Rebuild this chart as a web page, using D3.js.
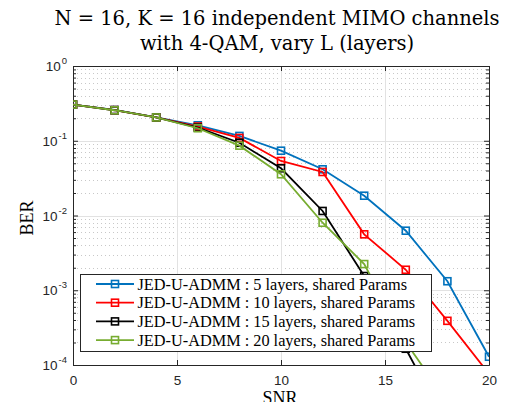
<!DOCTYPE html>
<html>
<head>
<meta charset="utf-8">
<script src="https://cdn.jsdelivr.net/npm/d3@7"></script>
<style>
  body { margin: 0; background: #fff; }
  svg { display: block; }
  .serif { font-family: "Liberation Serif", "Times New Roman", serif; }
  .title { font-family: "DejaVu Serif", serif; }
  .sans { font-family: "Liberation Sans", Arial, sans-serif; }
</style>
</head>
<body>
<svg id="chart" width="518" height="402"></svg>
<script>
// SNR sweep and bit error rates for each unrolled depth
const snr = [0, 2, 4, 6, 8, 10, 12, 14, 16, 18, 20];
const ber5  = [0.305, 0.258, 0.206, 0.161, 0.116, 0.0736, 0.0415, 0.0184, 0.00626, 0.00132, 0.000129];
const ber10 = [0.305, 0.257, 0.205, 0.155, 0.109, 0.0536, 0.0382, 0.0056, 0.00188, 0.00039, 0.000076];
const ber15 = [0.305, 0.256, 0.205, 0.150, 0.094, 0.0428, 0.0115, 0.00155, 0.000165, 0.000015];
const ber20 = [0.305, 0.256, 0.205, 0.147, 0.086, 0.0356, 0.0080, 0.00224, 0.000202, 0.000032];

const seriesNames = [
  "JED-U-ADMM : 5 layers, shared Params",
  "JED-U-ADMM : 10 layers, shared Params",
  "JED-U-ADMM : 15 layers, shared Params",
  "JED-U-ADMM : 20 layers, shared Params"
];
const seriesColors = ["#0072BD", "#FF0000", "#000000", "#77AC30"];
const xTicks = [0, 5, 10, 15, 20];
const yDecades = [-4, -3, -2, -1, 0];
const titleLines = ["N = 16, K = 16 independent MIMO channels", "with 4-QAM, vary L (layers)"];

const series = [ber5, ber10, ber15, ber20].map((v, i) => ({
  name: seriesNames[i], color: seriesColors[i],
  pts: v.map((b, j) => ({ x: snr[j], y: b }))
}));

const svg = d3.select("#chart");
const L = 73, R = 489, T = 66, B = 365;
const x = d3.scaleLinear().domain([0, 20]).range([L, R]);
const y = d3.scaleLog().domain([1e-4, 1]).range([B, T]);

const axisCol = "#262626";

svg.append("defs").append("clipPath").attr("id", "plotClip")
  .append("rect").attr("x", L).attr("y", T).attr("width", R - L).attr("height", B - T);

// minor grid (dotted) at 2..9 x each decade
const minorVals = [];
for (let d = -4; d < 0; d++) for (let m = 2; m <= 9; m++) minorVals.push(m * Math.pow(10, d));
const grid = svg.append("g");
grid.selectAll("line.minor").data(minorVals).join("line")
  .attr("x1", L).attr("x2", R)
  .attr("y1", d => Math.round(y(d)) + 0.5).attr("y2", d => Math.round(y(d)) + 0.5)
  .attr("stroke", "#c8c8c8").attr("stroke-width", 1).attr("stroke-dasharray", "1,3");
// major grid
grid.selectAll("line.hmaj").data(yDecades.slice(1, -1)).join("line")
  .attr("x1", L).attr("x2", R)
  .attr("y1", d => Math.round(y(Math.pow(10, d))) + 0.5).attr("y2", d => Math.round(y(Math.pow(10, d))) + 0.5)
  .attr("stroke", "#e2e2e2").attr("stroke-width", 1);
grid.selectAll("line.vmaj").data(xTicks.slice(1, -1)).join("line")
  .attr("x1", d => Math.round(x(d)) + 0.5).attr("x2", d => Math.round(x(d)) + 0.5)
  .attr("y1", T).attr("y2", B)
  .attr("stroke", "#e2e2e2").attr("stroke-width", 1);

// axes: bottom/left with labels, top/right mirrored ticks only
const majorY = yDecades.map(d => Math.pow(10, d));
const axBottom = svg.append("g").attr("transform", `translate(0,${B})`)
  .call(d3.axisBottom(x).tickValues(xTicks).tickSizeInner(-5).tickSizeOuter(0).tickPadding(10).tickFormat(d3.format("d")));
const axTop = svg.append("g").attr("transform", `translate(0,${T})`)
  .call(d3.axisTop(x).tickValues(xTicks).tickSizeInner(-5).tickSizeOuter(0).tickFormat(""));
const axLeft = svg.append("g").attr("transform", `translate(${L},0)`)
  .call(d3.axisLeft(y).tickValues(majorY).tickSizeInner(-5).tickSizeOuter(0).tickFormat(""));
const axRight = svg.append("g").attr("transform", `translate(${R},0)`)
  .call(d3.axisRight(y).tickValues(majorY).tickSizeInner(-5).tickSizeOuter(0).tickFormat(""));
const axLeftMinor = svg.append("g").attr("transform", `translate(${L},0)`)
  .call(d3.axisLeft(y).tickValues(minorVals).tickSizeInner(-3).tickSizeOuter(0).tickFormat(""));
const axRightMinor = svg.append("g").attr("transform", `translate(${R},0)`)
  .call(d3.axisRight(y).tickValues(minorVals).tickSizeInner(-3).tickSizeOuter(0).tickFormat(""));

[axBottom, axTop, axLeft, axRight, axLeftMinor, axRightMinor].forEach(g => {
  g.attr("font-family", null);
  g.select(".domain").attr("stroke", axisCol).attr("stroke-width", 1);
  g.selectAll(".tick line").attr("stroke", axisCol);
});
axBottom.selectAll("text").attr("class", "sans").attr("font-size", 13.5).attr("fill", axisCol);

// y tick labels as 10^k
const yl = svg.append("g");
yDecades.forEach(d => {
  const t = yl.append("text").attr("class", "sans")
    .attr("x", L - 6).attr("y", y(Math.pow(10, d)) + 5)
    .attr("text-anchor", "end").attr("fill", axisCol)
    .attr("font-size", 13.5);
  t.append("tspan").text("10");
  t.append("tspan").attr("dy", -7).attr("dx", 1).attr("font-size", 9.5).text(d === 0 ? "0" : "-" + Math.abs(d));
});

// series lines and square markers
const line = d3.line().x(d => x(d.x)).y(d => y(d.y));
const plot = svg.append("g").attr("clip-path", "url(#plotClip)");
series.forEach(s => {
  plot.append("path").datum(s.pts).attr("d", line)
    .attr("fill", "none").attr("stroke", s.color).attr("stroke-width", 1.8);
  plot.selectAll(null).data(s.pts).join("rect")
    .attr("x", d => x(d.x) - 3.5).attr("y", d => y(d.y) - 3.5)
    .attr("width", 7).attr("height", 7)
    .attr("fill", "none").attr("stroke", s.color).attr("stroke-width", 1.6);
});

// title
titleLines.forEach((t, i) => svg.append("text").attr("class", "title")
  .attr("text-anchor", "middle").attr("x", 277).attr("y", 25 + i * 25)
  .attr("font-size", 19.5).attr("fill", "#000").text(t));

// axis labels
svg.append("text").attr("class", "serif").attr("x", 280).attr("y", 404).attr("text-anchor", "middle")
  .attr("font-size", 18).text("SNR");
svg.append("text").attr("class", "serif").attr("transform", "translate(33,218) rotate(-90)").attr("text-anchor", "middle")
  .attr("font-size", 18).text("BER");

// legend
const lg = svg.append("g");
lg.append("rect").attr("x", 80.5).attr("y", 274.5).attr("width", 351).attr("height", 77)
  .attr("fill", "#fff").attr("stroke", axisCol).attr("stroke-width", 1);
series.forEach((s, i) => {
  const cy = 284 + i * 18.7;
  lg.append("line").attr("x1", 96).attr("x2", 134).attr("y1", cy).attr("y2", cy)
    .attr("stroke", s.color).attr("stroke-width", 1.8);
  lg.append("rect").attr("x", 115 - 3.5).attr("y", cy - 3.5).attr("width", 7).attr("height", 7)
    .attr("fill", "none").attr("stroke", s.color).attr("stroke-width", 1.6);
  lg.append("text").attr("class", "serif").attr("x", 137.5).attr("y", cy + 5.5)
    .attr("font-size", 16.3).attr("fill", "#000").text(s.name);
});
</script>
</body>
</html>
